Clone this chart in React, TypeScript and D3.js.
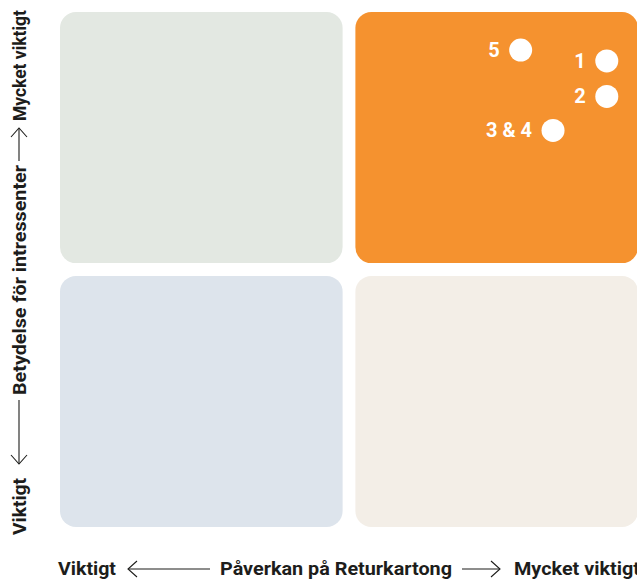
import React from "react";
import * as d3 from "d3";

const W = 637;
const H = 579;

// quadrant layout (rows: top→bottom, cols: left→right)
const quadrantCols = [0, 1];
const quadrantRows = [0, 1];
const quadrantColors = [
  ["#e3e8e2", "#f5922f"],
  ["#dde4ec", "#f3eee7"],
];

// points
const pointLabels = ["5", "1", "2", "3 & 4"];
const impactValues = [7.97, 9.46, 9.46, 8.53];
const stakeholderValues = [9.26, 9.05, 8.36, 7.7];

const xAxisLow = "Viktigt";
const xAxisTitle = "Påverkan på Returkartong";
const xAxisHigh = "Mycket viktigt";
const yAxisLow = "Viktigt";
const yAxisTitle = "Betydelse för intressenter";
const yAxisHigh = "Mycket viktigt";

const FONT = "Roboto, 'Liberation Sans', Arial, sans-serif";

export default function App() {
  const left = 60, right = 638, top = 12, bottom = 527;
  const gap = 12.5;
  const x = d3.scaleLinear().domain([0, 10]).range([left, right]);
  const y = d3.scaleLinear().domain([0, 10]).range([bottom, top]);
  const band = d3.scaleBand<number>().domain(quadrantCols).range([left, right]).paddingInner(gap / ((right - left) / 2));
  const bandY = d3.scaleBand<number>().domain(quadrantRows).range([top, bottom]).paddingInner(gap / ((bottom - top) / 2));

  const textColor = "#1d1d1b";
  const axisY = 569;
  const axisX = 19;

  return (
    <svg width={W} height={H} style={{ position: "absolute", left: 0, top: 0 }} fontFamily={FONT}>
      <rect width={W} height={H} fill="#ffffff" />
      {quadrantRows.map((r) =>
        quadrantCols.map((c) => (
          <rect
            key={`${r}-${c}`}
            x={band(c)}
            y={bandY(r)}
            width={band.bandwidth()}
            height={bandY.bandwidth()}
            rx={16}
            ry={16}
            fill={quadrantColors[r][c]}
          />
        ))
      )}
      {pointLabels.map((lab, i) => (
        <g key={lab}>
          <circle cx={x(impactValues[i])} cy={y(stakeholderValues[i])} r={11.5} fill="#ffffff" />
          <text
            x={x(impactValues[i]) - 21}
            y={y(stakeholderValues[i]) + 7}
            textAnchor="end"
            fill="#ffffff"
            fontWeight={700}
            fontSize={20}
          >
            {lab}
          </text>
        </g>
      ))}

      {/* x axis label */}
      <g fill={textColor} fontWeight={700} fontSize={17.5}>
        <text x={58} y={575} textLength={58} lengthAdjust="spacingAndGlyphs">{xAxisLow}</text>
        <text x={220} y={575} textLength={232} lengthAdjust="spacingAndGlyphs">{xAxisTitle}</text>
        <text x={514} y={575} textLength={126} lengthAdjust="spacingAndGlyphs">{xAxisHigh}</text>
      </g>
      <g stroke={textColor} strokeWidth={1.1} fill="none">
        <line x1={128} x2={210} y1={axisY} y2={axisY} />
        <polyline points={`${137},${axisY - 8} ${128},${axisY} ${137},${axisY + 8}`} />
        <line x1={462} x2={500} y1={axisY} y2={axisY} />
        <polyline points={`${491},${axisY - 8} ${500},${axisY} ${491},${axisY + 8}`} />
      </g>

      {/* y axis label */}
      <g fill={textColor} fontWeight={700} fontSize={17.5}>
        <text transform={`translate(26,535) rotate(-90)`} textLength={57} lengthAdjust="spacingAndGlyphs">{yAxisLow}</text>
        <text transform={`translate(26,395) rotate(-90)`} textLength={230} lengthAdjust="spacingAndGlyphs">{yAxisTitle}</text>
        <text transform={`translate(26,121) rotate(-90)`} textLength={111} lengthAdjust="spacingAndGlyphs">{yAxisHigh}</text>
      </g>
      <g stroke={textColor} strokeWidth={1.1} fill="none">
        <line x1={axisX} x2={axisX} y1={400} y2={464} />
        <polyline points={`${axisX - 8},${455} ${axisX},${464} ${axisX + 8},${455}`} />
        <line x1={axisX} x2={axisX} y1={128} y2={161} />
        <polyline points={`${axisX - 8},${137} ${axisX},${128} ${axisX + 8},${137}`} />
      </g>
    </svg>
  );
}
